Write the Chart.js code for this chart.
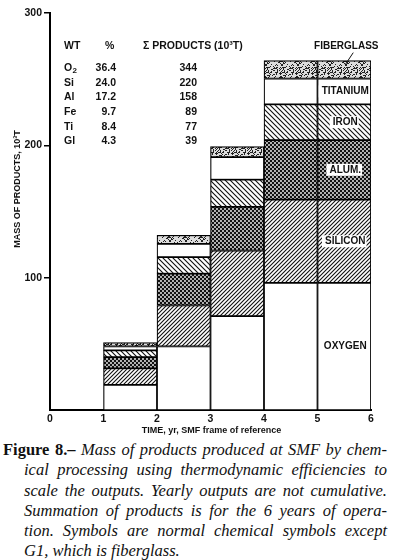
<!DOCTYPE html>
<html>
<head>
<meta charset="utf-8">
<script src="https://cdn.jsdelivr.net/npm/chart.js@4.4.1/dist/chart.umd.min.js"></script>
<style>
  body { margin: 0; background: #fff; width: 397px; height: 560px; overflow: hidden; }
  #wrap { position: relative; width: 397px; height: 440px; }
  #caption {
    font-family: "Liberation Serif", "DejaVu Serif", serif;
    font-size: 16.5px;
    line-height: 20.3px;
    color: #111;
    margin-top: 0;
  }
  #caption span { display: block; white-space: nowrap; text-align: justify; text-align-last: justify; }
  #caption .first { padding-left: 3px; width: 384px; }
  #caption .rest { padding-left: 24px; width: 363px; font-style: italic; }
  #caption .last { text-align-last: left; }
  #caption i { font-style: italic; }
</style>
</head>
<body>
<div id="wrap"><canvas id="mass-chart" width="397" height="440"></canvas></div>
<div id="caption">
  <span class="first"><b>Figure 8.–</b> <i>Mass of products produced at SMF by chem-</i></span>
  <span class="rest">ical processing using thermodynamic efficiencies to</span>
  <span class="rest">scale the outputs. Yearly outputs are not cumulative.</span>
  <span class="rest">Summation of products is for the 6 years of opera-</span>
  <span class="rest">tion. Symbols are normal chemical symbols except</span>
  <span class="rest last">G1, which is fiberglass.</span>
</div>
<script>
// DATA //

const yearStart = [1, 2, 3, 4, 5];
const oxygen = [19, 48, 71, 96, 96];
const silicon = [12.5, 31, 49.5, 63, 63];
const aluminum = [8.5, 24, 33, 45, 45];
const iron = [5, 12.5, 20.5, 27, 27];
const titanium = [3, 10, 17, 19.5, 19.5];
const fiberglass = [3, 6.5, 8, 13.5, 13.5];
const productNames = ['OXYGEN', 'SILICON', 'ALUM.', 'IRON', 'TITANIUM', 'FIBERGLASS'];

const tableSymbols = ['O2', 'Si', 'Al', 'Fe', 'Ti', 'Gl'];
const tablePercent = ['36.4', '24.0', '17.2', '9.7', '8.4', '4.3'];
const tableTotals = ['344', '220', '158', '89', '77', '39'];

const xTicks = [0, 1, 2, 3, 4, 5, 6];
const yTicks = [100, 200, 300];

// PATTERNS //

function makeTile(size, draw) {
    const c = document.createElement('canvas');
    c.width = size;
    c.height = size;
    const ctx = c.getContext('2d');
    ctx.fillStyle = '#fff';
    ctx.fillRect(0, 0, size, size);
    draw(ctx, size);
    return document.getElementById('mass-chart').getContext('2d').createPattern(c, 'repeat');
}

function hatch(forward, size) {
    return makeTile(size, (ctx, s) => {
        ctx.strokeStyle = '#111';
        ctx.lineWidth = 1.1;
        ctx.beginPath();
        if (forward) {
            ctx.moveTo(-1, s + 1); ctx.lineTo(s + 1, -1);
            ctx.moveTo(-1, 1); ctx.lineTo(1, -1);
            ctx.moveTo(s - 1, s + 1); ctx.lineTo(s + 1, s - 1);
        } else {
            ctx.moveTo(-1, -1); ctx.lineTo(s + 1, s + 1);
            ctx.moveTo(s - 1, -1); ctx.lineTo(s + 1, 1);
            ctx.moveTo(-1, s - 1); ctx.lineTo(1, s + 1);
        }
        ctx.stroke();
    });
}

const crossPattern = makeTile(4, (ctx, s) => {
    ctx.fillStyle = '#111';
    ctx.fillRect(0, 0, s, s);
    ctx.fillStyle = '#fff';
    ctx.beginPath();
    ctx.arc(1, 1, 0.9, 0, Math.PI * 2);
    ctx.arc(3, 3, 0.9, 0, Math.PI * 2);
    ctx.fill();
});

const stipplePattern = makeTile(16, (ctx, s) => {
    ctx.fillStyle = '#ddd';
    ctx.fillRect(0, 0, s, s);
    ctx.fillStyle = '#222';
    let seed = 7;
    for (let i = 0; i < 90; i++) {
        seed = (seed * 1103 + 12345) % 65521;
        const px = seed % s;
        seed = (seed * 1103 + 12345) % 65521;
        const py = seed % s;
        ctx.fillRect(px, py, 1, 1);
    }
});

// CHART //

function points(values) {
    return values.map((v, i) => ({ x: yearStart[i] + 0.5, y: v }));
}

function segment(label, values, fill) {
    return {
        label: label,
        data: points(values),
        backgroundColor: fill,
        borderColor: '#000',
        borderWidth: 1.2,
        borderSkipped: false,
        barPercentage: 1,
        categoryPercentage: 1
    };
}

const series = [oxygen, silicon, aluminum, iron, titanium, fiberglass];
const fills = ['#fff', hatch(true, 4), crossPattern, hatch(false, 5), '#fff', stipplePattern];

Chart.defaults.font.family = '"Liberation Sans", Arial, sans-serif';
Chart.defaults.font.weight = 'bold';
Chart.defaults.color = '#111';

const annotations = {
    id: 'annotations',
    afterDraw(chart) {
        const ctx = chart.ctx;
        const x = chart.scales.x;
        const y = chart.scales.y;
        const area = chart.chartArea;
        ctx.save();
        ctx.fillStyle = '#111';

        // axis titles
        ctx.font = 'bold 9px "Liberation Sans", Arial, sans-serif';
        ctx.textAlign = 'center';
        ctx.textBaseline = 'middle';
        ctx.fillText('TIME, yr, SMF frame of reference', (area.left + area.right) / 2 + 1, area.bottom + 21);
        ctx.save();
        ctx.translate(18, 189);
        ctx.rotate(-Math.PI / 2);
        ctx.fillText('MASS OF PRODUCTS, 10\u00B3T', 0, 0);
        ctx.restore();

        // table
        const tx = area.left + 14;
        ctx.font = 'bold 10.5px "Liberation Sans", Arial, sans-serif';
        ctx.textAlign = 'left';
        ctx.fillText('WT', tx, 46);
        ctx.fillText('%', tx + 41, 46);
        ctx.fillText('\u03A3 PRODUCTS (10\u00B3T)', tx + 79, 46);
        tableSymbols.forEach((sym, i) => {
            const ry = 68 + i * 14.7;
            ctx.textAlign = 'left';
            if (sym === 'O2') {
                ctx.fillText('O', tx, ry);
                ctx.font = 'bold 8px "Liberation Sans", Arial, sans-serif';
                ctx.fillText('2', tx + 8.5, ry + 3);
                ctx.font = 'bold 10.5px "Liberation Sans", Arial, sans-serif';
            } else {
                ctx.fillText(sym, tx, ry);
            }
            ctx.textAlign = 'right';
            ctx.fillText(tablePercent[i], tx + 52, ry);
            ctx.fillText(tableTotals[i], tx + 133, ry);
        });

        // product labels on last bar
        const last = yearStart.length - 1;
        const cx = x.getPixelForValue(yearStart[last] + 0.5);
        ctx.font = 'bold 10px "Liberation Sans", Arial, sans-serif';
        ctx.textAlign = 'center';
        let cum = 0;
        series.forEach((vals, p) => {
            const v = vals[last];
            if (p < series.length - 1) {
                const my = y.getPixelForValue(cum + v / 2);
                const w = ctx.measureText(productNames[p]).width;
                ctx.fillStyle = '#fff';
                ctx.fillRect(cx - w / 2 - 2, my - 6, w + 4, 12);
                ctx.fillStyle = '#111';
                ctx.fillText(productNames[p], cx + 1, my);
            }
            cum += v;
        });
        const topY = y.getPixelForValue(cum);
        ctx.fillText(productNames[series.length - 1], cx + 2, topY - 14);
        ctx.strokeStyle = '#111';
        ctx.lineWidth = 1;
        ctx.beginPath();
        ctx.moveTo(cx + 9, topY - 8);
        ctx.lineTo(cx + 1, topY + 4);
        ctx.stroke();

        ctx.restore();
    }
};

const massChart = new Chart(document.getElementById('mass-chart'), {
    type: 'bar',
    data: {
        datasets: series.map((vals, i) => segment(productNames[i], vals, fills[i]))
    },
    options: {
        responsive: false,
        animation: false,
        layout: { padding: { left: 20, right: 26, top: 13, bottom: 0 } },
        scales: {
            x: {
                type: 'linear',
                stacked: true,
                min: 0,
                max: 6,
                offset: false,
                afterBuildTicks: (scale) => { scale.ticks = xTicks.map(v => ({ value: v })); },
                afterFit: (scale) => { scale.height = 30; },
                ticks: { padding: 3, font: { size: 10.5, weight: 'bold' } },
                grid: { display: false, drawTicks: false, tickLength: 0, offset: false },
                border: { display: true, color: '#000', width: 2 }
            },
            y: {
                stacked: true,
                min: 0,
                max: 300,
                afterBuildTicks: (scale) => { scale.ticks = yTicks.map(v => ({ value: v })); },
                afterFit: (scale) => { scale.width = 30; },
                ticks: { padding: 2, font: { size: 10.5, weight: 'bold' } },
                grid: { drawOnChartArea: false, drawTicks: true, tickLength: 6, color: '#000', lineWidth: 1.5 },
                border: { display: true, color: '#000', width: 2 }
            }
        },
        plugins: {
            legend: { display: false },
            tooltip: { enabled: false }
        }
    },
    plugins: [annotations]
});
</script>
</body>
</html>
